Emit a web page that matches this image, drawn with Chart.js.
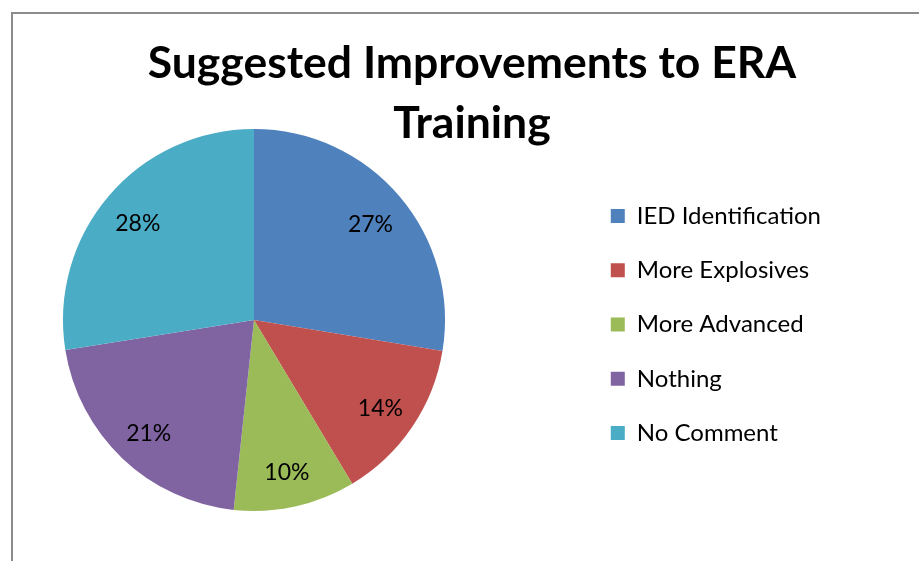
<!DOCTYPE html>
<html>
<head>
<meta charset="utf-8">
<script src="https://cdn.jsdelivr.net/npm/chart.js@4"></script>
<style>
  body { margin: 0; background: #fff; overflow: hidden; }
  #frame { position: absolute; left: 11px; top: 12px; width: 1000px; height: 1000px;
           border-left: 2px solid #8c8c8c; border-top: 2px solid #8c8c8c; }
  #chart { position: absolute; left: 0; top: 0; }
</style>
</head>
<body>
<div id="frame"></div>
<canvas id="chart" width="919" height="561"></canvas>
<script>
const categories = ["IED Identification", "More Explosives", "More Advanced", "Nothing", "No Comment"];
const shares = [27.6, 13.8, 10.3, 20.8, 27.5];
const shareLabels = ["27%", "14%", "10%", "21%", "28%"];
const colors = ["#4F81BD", "#C0504D", "#9BBB59", "#8064A2", "#4BACC6"];

// plot area like the excel manual layout (pie sits left of the centre)
const plotArea = { left: 63, top: 129, right: 445, bottom: 511 };

const plotLayout = {
  id: "plotLayout",
  afterLayout(chart) {
    const a = chart.chartArea;
    a.left = plotArea.left;
    a.top = plotArea.top;
    a.right = plotArea.right;
    a.bottom = plotArea.bottom;
    a.width = a.right - a.left;
    a.height = a.bottom - a.top;
  }
};

// percentage text inside each slice
const sliceLabels = {
  id: "sliceLabels",
  afterDatasetsDraw(chart) {
    const ctx = chart.ctx;
    const arcs = chart.getDatasetMeta(0).data;
    ctx.save();
    ctx.font = "23px Lato";
    ctx.fillStyle = "#000";
    ctx.textAlign = "center";
    ctx.textBaseline = "middle";
    arcs.forEach((arc, i) => {
      const p = arc.getProps(["x", "y", "startAngle", "endAngle", "outerRadius"], true);
      const mid = (p.startAngle + p.endAngle) / 2;
      const r = p.outerRadius * 0.8;
      ctx.fillText(shareLabels[i], p.x + Math.cos(mid) * r, p.y + Math.sin(mid) * r + 3);
    });
    ctx.restore();
  }
};

new Chart(document.getElementById("chart"), {
  type: "pie",
  data: {
    labels: categories,
    datasets: [{
      data: shares,
      backgroundColor: colors,
      borderWidth: 0
    }]
  },
  options: {
    responsive: false,
    animation: false,
    layout: { padding: { left: 113, right: 88, top: 0, bottom: 66 } },
    plugins: {
      title: {
        display: true,
        text: ["Suggested Improvements to ERA", "Training"],
        color: "#000",
        font: { family: "Lato", size: 44.5, weight: "bold", lineHeight: 1.35 },
        padding: { top: 34, bottom: 0 }
      },
      legend: {
        position: "right",
        fullSize: false,
        labels: {
          color: "#000",
          font: { family: "Lato", size: 24 },
          boxWidth: 14,
          boxHeight: 14,
          padding: 30.25
        }
      },
      tooltip: { enabled: false }
    }
  },
  plugins: [plotLayout, sliceLabels]
});
</script>
</body>
</html>
